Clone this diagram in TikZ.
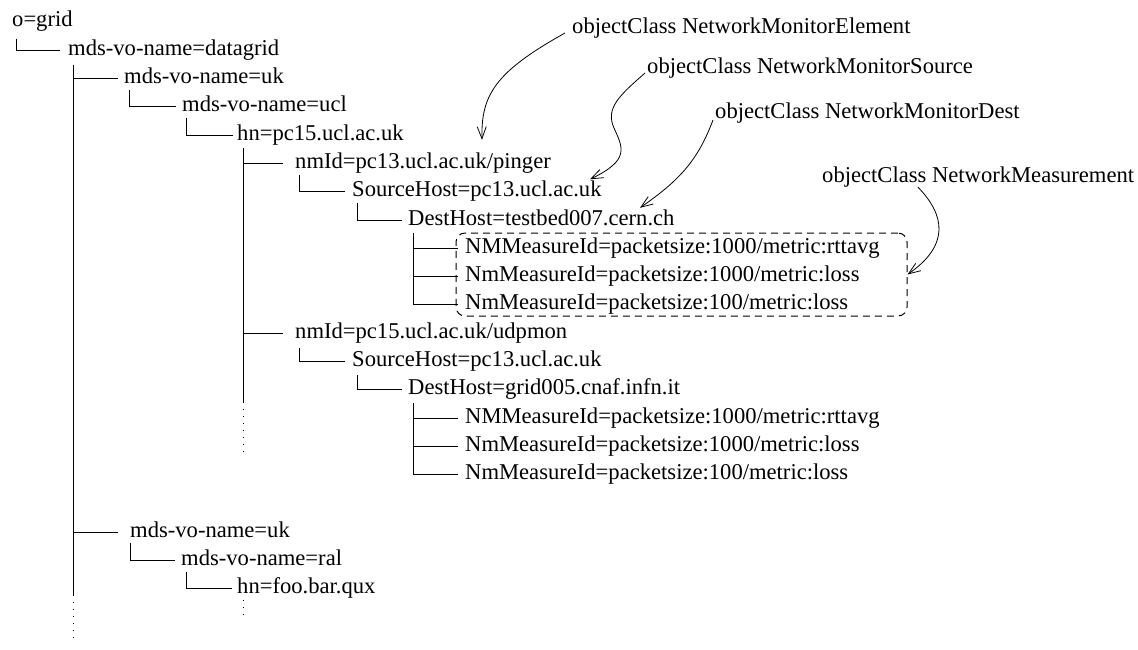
\documentclass[tikz,border=0pt]{standalone}
\usepackage{fontspec}
\setmainfont{Liberation Serif}
\usetikzlibrary{arrows.meta,calc}
\begin{document}
\begin{tikzpicture}[x=1pt,y=-1pt,
  lbl/.style={anchor=west,inner sep=0pt,text height=15pt,text depth=5pt,font=\fontsize{22.6}{27}\selectfont},
  tree/.style={line width=0.8pt},
  dots/.style={line width=0.8pt,dash pattern=on 1pt off 6pt},
  note/.style={line width=0.8pt,-{Straight Barb[length=12pt,width=9pt]}},
  groupbox/.style={draw,line width=1pt,dash pattern=on 7pt off 5pt,rounded corners=9pt,inner sep=0pt}]
\useasboundingbox (0,0) rectangle (1138,649);
% tree nodes
\node[lbl] (root) at (12,21.5) {o=grid};
\node[lbl] (dg) at (68,50) {mds-vo-name=datagrid};
\node[lbl] (uka) at (124,78) {mds-vo-name=uk};
\node[lbl] (ucl) at (182,106.5) {mds-vo-name=ucl};
\node[lbl] (hn) at (237,135) {hn=pc15.ucl.ac.uk};
\node[lbl] (ping) at (295,163) {nmId=pc13.ucl.ac.uk/pinger};
\node[lbl] (srca) at (352,191.5) {SourceHost=pc13.ucl.ac.uk};
\node[lbl] (dsta) at (408,220) {DestHost=testbed007.cern.ch};
\node[lbl] (ma1) at (465,248) {NMMeasureId=packetsize:1000/metric:rttavg};
\node[lbl] (ma2) at (465,276.5) {NmMeasureId=packetsize:1000/metric:loss};
\node[lbl] (ma3) at (465,304.5) {NmMeasureId=packetsize:100/metric:loss};
\node[lbl] (udp) at (295,333) {nmId=pc15.ucl.ac.uk/udpmon};
\node[lbl] (srcb) at (352,361) {SourceHost=pc13.ucl.ac.uk};
\node[lbl] (dstb) at (408,389) {DestHost=grid005.cnaf.infn.it};
\node[lbl] (mb1) at (465,418) {NMMeasureId=packetsize:1000/metric:rttavg};
\node[lbl] (mb2) at (465,446.5) {NmMeasureId=packetsize:1000/metric:loss};
\node[lbl] (mb3) at (465,474.5) {NmMeasureId=packetsize:100/metric:loss};
\node[lbl] (ukb) at (130,532) {mds-vo-name=uk};
\node[lbl] (ral) at (181,560) {mds-vo-name=ral};
\node[lbl] (foo) at (237,588.5) {hn=foo.bar.qux};
% group box
\node[groupbox,minimum width=451pt,minimum height=83pt] (mbox) at (681.5,274.5) {};
% annotations
\node[lbl] (ne) at (572,28) {objectClass NetworkMonitorElement};
\node[lbl] (ns) at (647,68) {objectClass NetworkMonitorSource};
\node[lbl] (nd) at (715,113) {objectClass NetworkMonitorDest};
\node[lbl] (nm) at (822,177) {objectClass NetworkMeasurement};
% tree connectors
\draw[tree] ([xshift=4pt,yshift=-7pt]root.south west) |- ([xshift=-8pt]dg.west);
\coordinate (dgv) at ([xshift=5pt,yshift=-5pt]dg.south west);
\coordinate (dgs) at (73,595);
\coordinate (dgd) at (73,643);
\draw[tree] (dgv) |- ([xshift=-6pt]uka.west);
\draw[tree] (dgv) |- ([xshift=-12pt]ukb.west);
\draw[tree] (dgv) -- (dgs);
\draw[dots] (dgs) -- (dgd);
\draw[tree] ([xshift=5pt,yshift=-2pt]uka.south west) |- ([xshift=-6pt]ucl.west);
\draw[tree] ([xshift=4pt,yshift=-1pt]ucl.south west) |- ([xshift=-4pt]hn.west);
\coordinate (hnv) at ([xshift=6pt,yshift=-3pt]hn.south west);
\coordinate (hns) at (243,402);
\coordinate (hnd) at (243,453);
\draw[tree] (hnv) |- ([xshift=-12pt]ping.west);
\draw[tree] (hnv) |- ([xshift=-12pt]udp.west);
\draw[tree] (hnv) -- (hns);
\draw[dots] (hns) -- (hnd);
\draw[tree] ([xshift=4pt,yshift=-2pt]ping.south west) |- ([xshift=-7pt]srca.west);
\draw[tree] ([xshift=5pt,yshift=-1pt]srca.south west) |- ([xshift=-6pt]dsta.west);
\coordinate (dav) at ([xshift=5pt,yshift=-3pt]dsta.south west);
\draw[tree] (dav) |- ([xshift=-7pt]ma1.west);
\draw[tree] (dav) |- ([xshift=-7pt]ma2.west);
\draw[tree] (dav) |- ([xshift=-7pt]ma3.west);
\draw[tree] ([xshift=4pt,yshift=-5pt]udp.south west) |- ([xshift=-7pt]srcb.west);
\draw[tree] ([xshift=5pt,yshift=-4pt]srcb.south west) |- ([xshift=-6pt]dstb.west);
\coordinate (dbv) at ([xshift=5pt,yshift=-4pt]dstb.south west);
\draw[tree] (dbv) |- ([xshift=-7pt]mb1.west);
\draw[tree] (dbv) |- ([xshift=-7pt]mb2.west);
\draw[tree] (dbv) |- ([xshift=-7pt]mb3.west);
\draw[tree] ([xshift=0pt,yshift=-1pt]ukb.south west) |- ([xshift=-6pt]ral.west);
\draw[tree] ([xshift=5pt,yshift=-2pt]ral.south west) |- ([xshift=-5pt]foo.west);
\coordinate (food) at (243,618);
\draw[dots] ([xshift=6pt,yshift=-1pt]foo.south west) -- (food);
% annotation arrows
\draw[note] ([xshift=-7pt,yshift=-5pt]ne.west) .. controls (495,72) and (481,95) .. ([xshift=187pt,yshift=13pt]ping.north west);
\draw[note] ([xshift=-2pt,yshift=-5pt]ns.west) .. controls (620,95) and (605,108) .. (614,128) .. controls (623,148) and (630,160) .. ([xshift=238pt,yshift=2pt]srca.north west);
\draw[note] ([xshift=-2pt,yshift=-7pt]nd.west) .. controls (698,160) and (680,180) .. ([xshift=232pt,yshift=2pt]dsta.north west);
\draw[note] ([xshift=96pt]nm.south west) .. controls (945,215) and (950,245) .. (mbox.east);
\end{tikzpicture}
\end{document}
